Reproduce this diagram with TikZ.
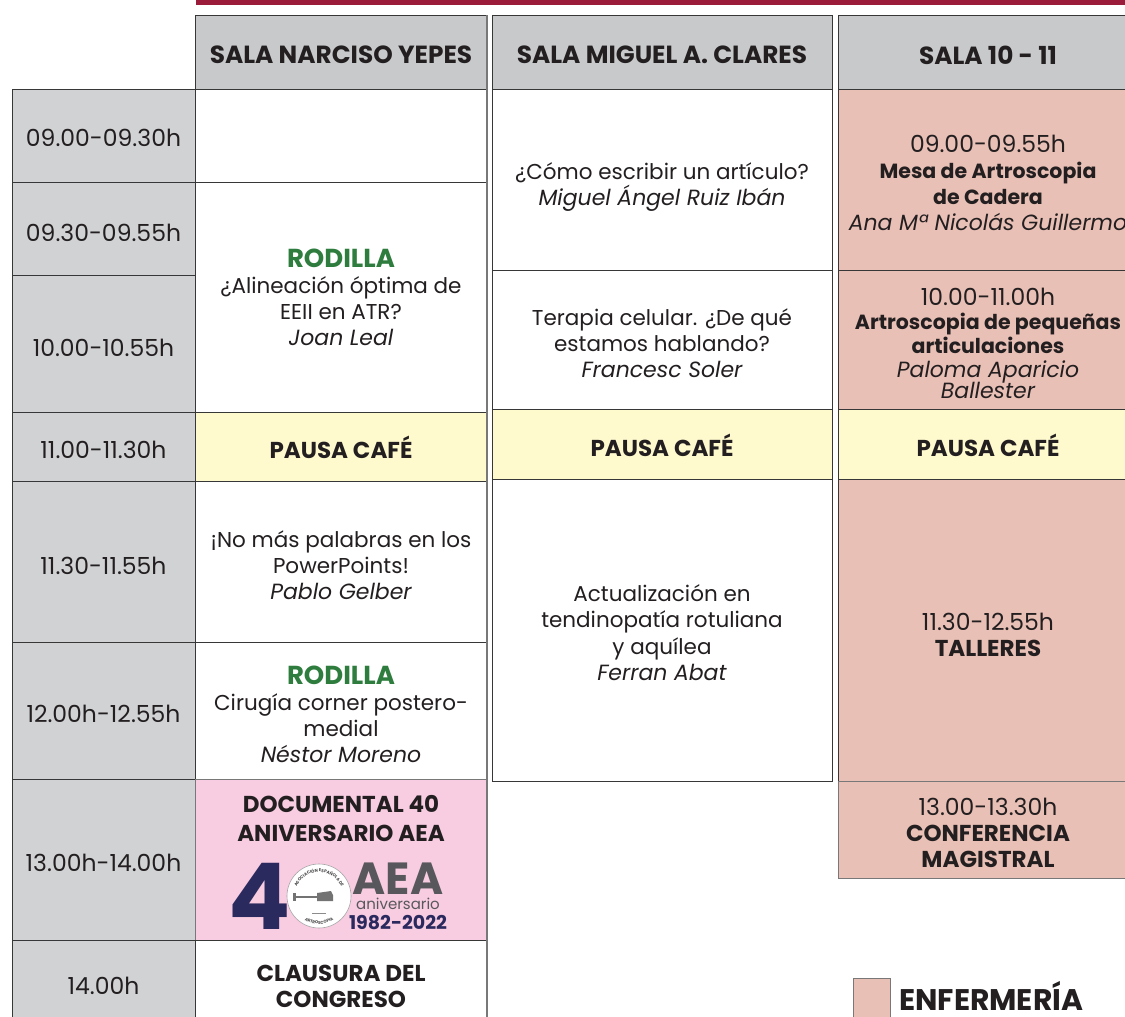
\documentclass[tikz,border=0pt]{standalone}
\usepackage{fontspec}
\setmainfont{Poppins}
\usetikzlibrary{decorations.text}
\definecolor{barred}{RGB}{155,28,58}
\definecolor{hdrgray}{RGB}{200,201,203}
\definecolor{timegray}{RGB}{209,210,212}
\definecolor{cafe}{RGB}{255,249,206}
\definecolor{salmon}{RGB}{233,192,182}
\definecolor{pinkdoc}{RGB}{248,204,225}
\definecolor{greenr}{RGB}{46,125,62}
\definecolor{ink}{RGB}{35,31,32}
\definecolor{navy}{RGB}{43,42,94}
\definecolor{logogray}{RGB}{88,88,92}
\definecolor{edge}{RGB}{55,55,55}
\definecolor{edgegray}{RGB}{120,120,120}
% name, x1, y1, x2, y2, box style, text style, text shift down, text
\newcommand\cellnode[9]{\node[cellbox,#6,minimum width={#4-#2}, minimum height={#5-#3}] (#1) at ({(#2+#4)/2},{(#3+#5)/2}) {};
  \node[celltext,#7,yshift=-#8pt] (#1-t) at (#1.center) {#9};}
\newcommand\xreg{\fontsize{21.5}{26}\selectfont}
\newcommand\xital{\fontsize{22}{26}\selectfont\itshape}
\newcommand\xbold{\fontsize{20.5}{26}\selectfont\bfseries}
\newcommand\xcaps{\fontsize{23}{26}\selectfont\bfseries}
\newcommand\xdig{\fontsize{23.5}{26}\selectfont}
\newcommand\xrod{{\fontsize{26}{26}\selectfont\bfseries\color{greenr}RODILLA}}
\begin{document}
\begin{tikzpicture}[x=1pt,y=-1pt,
  cellbox/.style={draw=edge, line width=1pt, rectangle, inner sep=0pt, outer sep=0pt},
  celltext/.style={align=center, text=ink, font=\xreg, inner sep=0pt},
  hdr/.style={fill=hdrgray},
  hdrt/.style={font=\fontsize{24.8}{26}\selectfont\bfseries},
  timec/.style={fill=timegray},
  timet/.style={font=\xdig},
  plain/.style={fill=white},
  cafec/.style={fill=cafe},
  cafet/.style={font=\xcaps},
  nurse/.style={fill=salmon},
  docc/.style={fill=pinkdoc, draw=edgegray},
]
\useasboundingbox (0,0) rectangle (1125,1017);
\clip (0,0) rectangle (1125,1017);
\fill[white] (0,0) rectangle (1125,1017);
\fill[barred] (196,-2) rectangle (1125,5);

% headers
\cellnode{h1}{195}{15}{487}{89}{hdr}{hdrt}{3}{SALA NARCISO YEPES}
\cellnode{h2}{492}{15}{832}{89}{hdr}{hdrt}{3}{SALA MIGUEL A. CLARES}
\cellnode{h3}{838}{15}{1138}{89}{hdr}{hdrt}{3}{SALA 10 - 11}

% time column
\cellnode{t1}{12}{89}{195}{182}{timec}{timet}{2}{09.00-09.30h}
\cellnode{t2}{12}{182}{195}{275}{timec}{timet}{4}{09.30-09.55h}
\cellnode{t3}{12}{275}{195}{412}{timec}{timet}{4}{10.00-10.55h}
\cellnode{t4}{12}{412}{195}{481}{timec}{timet}{3}{11.00-11.30h}
\cellnode{t5}{12}{481}{195}{642}{timec}{timet}{4}{11.30-11.55h}
\cellnode{t6}{12}{642}{195}{779}{timec}{timet}{3}{12.00h-12.55h}
\cellnode{t7}{12}{779}{195}{940}{timec}{timet}{3}{13.00h-14.00h}
\cellnode{t8}{12}{940}{195}{1030}{timec}{timet}{1}{14.00h}

% column 1
\cellnode{a1}{195}{89}{487}{182}{plain}{}{0}{}
\cellnode{a2}{195}{182}{487}{412}{plain}{}{0.5}{\xrod\\¿Alineación óptima de\\EEII en ATR?\\\xital Joan Leal}
\cellnode{a3}{195}{412}{487}{481}{cafec}{cafet}{1}{PAUSA CAFÉ}
\cellnode{a4}{195}{481}{487}{642}{plain}{}{4}{¡No más palabras en los\\PowerPoints!\\\xital Pablo Gelber}
\cellnode{a5}{195}{642}{487}{779}{plain}{}{4}{\xrod\\Cirugía corner postero-\\medial\\\xital Néstor Moreno}
\cellnode{a6}{195}{779}{487}{940}{docc}{}{0}{}
\cellnode{a7}{195}{940}{487}{1030}{plain}{cafet}{1}{CLAUSURA DEL\\CONGRESO}
\draw[edgegray, line width=2pt] (487,15) -- (487,1017);

% column 2
\cellnode{b1}{492}{89}{832}{270}{plain}{}{7}{¿Cómo escribir un artículo?\\\xital Miguel Ángel Ruiz Ibán}
\cellnode{b2}{492}{270}{832}{409}{plain}{}{4}{Terapia celular. ¿De qué\\estamos hablando?\\\xital Francesc Soler}
\cellnode{b3}{492}{409}{832}{479}{cafec}{cafet}{1}{PAUSA CAFÉ}
\cellnode{b4}{492}{479}{832}{781}{plain}{}{3}{Actualización en\\tendinopatía rotuliana\\[1pt]y aquílea\\\xital Ferran Abat}

% column 3
\cellnode{c1}{838}{89}{1138}{270}{nurse}{}{3}{\xdig 09.00-09.55h\\\xbold Mesa de Artroscopia\\\xbold de Cadera\\\xital Ana Mª Nicolás Guillermo}
\cellnode{c2}{838}{270}{1138}{409}{nurse}{font=\fontsize{21.5}{24}\selectfont}{3.5}{\xdig 10.00-11.00h\\\xbold Artroscopia de pequeñas\\\xbold articulaciones\\\xital Paloma Aparicio\\[-3pt]\xital Ballester}
\cellnode{c3}{838}{409}{1138}{479}{cafec}{cafet}{1}{PAUSA CAFÉ}
\cellnode{c4}{838}{479}{1138}{781}{nurse}{}{4.5}{\xdig 11.30-12.55h\\\xcaps TALLERES}
\cellnode{c5}{838}{781}{1138}{878}{nurse,draw=edgegray}{}{3}{\xdig 13.00-13.30h\\\xcaps CONFERENCIA\\\xcaps MAGISTRAL}

% documental cell content
\node[align=center, text=ink, font=\fontsize{23}{29}\selectfont\bfseries] (doct) at (341,819) {DOCUMENTAL 40\\ANIVERSARIO AEA};
\node[text=navy, font=\fontsize{92}{92}\selectfont\bfseries, inner sep=0pt] (four) at (260,896) {4};
\node[circle, draw=black!35, fill=white, line width=0.6pt, minimum size=64pt, inner sep=0pt] (seal) at (319,896) {};
\path[decorate, decoration={text along path, text align=center, text={|\fontsize{4.2}{5}\selectfont\bfseries\color{black!70}|ASOCIACIÓN ESPAÑOLA DE}}] (319,896) ++(195:24) arc[start angle=195, end angle=345, radius=24];
\path[decorate, decoration={text along path, text align=center, text={|\fontsize{4.2}{5}\selectfont\bfseries\color{black!70}|ARTROSCOPIA}}] (319,896) ++(140:28) arc[start angle=140, end angle=40, radius=28];
\draw[black!55, line width=1.6pt] (295,897) -- (317,897);
\fill[black!55] (293,893) rectangle (296,901);
\fill[black!55] (317,893) -- (331,891) -- (333,895) -- (333,901) -- (317,901) -- cycle;
\draw[black!45, line width=0.5pt] (312,913) -- (326,913);
\node[text=logogray, font=\fontsize{45}{45}\selectfont\bfseries, inner sep=0pt] (aea) at (398,879) {AEA};
\node[text=logogray, font=\fontsize{15}{15}\selectfont, inner sep=0pt] (aniv) at (398,903.5) {aniversario};
\node[text=navy, font=\fontsize{19}{19}\selectfont\bfseries, inner sep=0pt] (years) at (398,922.5) {1982-2022};

% legend
\node[draw=edgegray, fill=salmon, line width=1pt, minimum width=37pt, minimum height=39pt, inner sep=0pt] (legsq) at (871.5,997.5) {};
\node[anchor=base west, text=ink, font=\fontsize{29.8}{30}\selectfont\bfseries, inner sep=0pt] (legtxt) at (899,1010) {ENFERMERÍA};
\end{tikzpicture}
\end{document}
